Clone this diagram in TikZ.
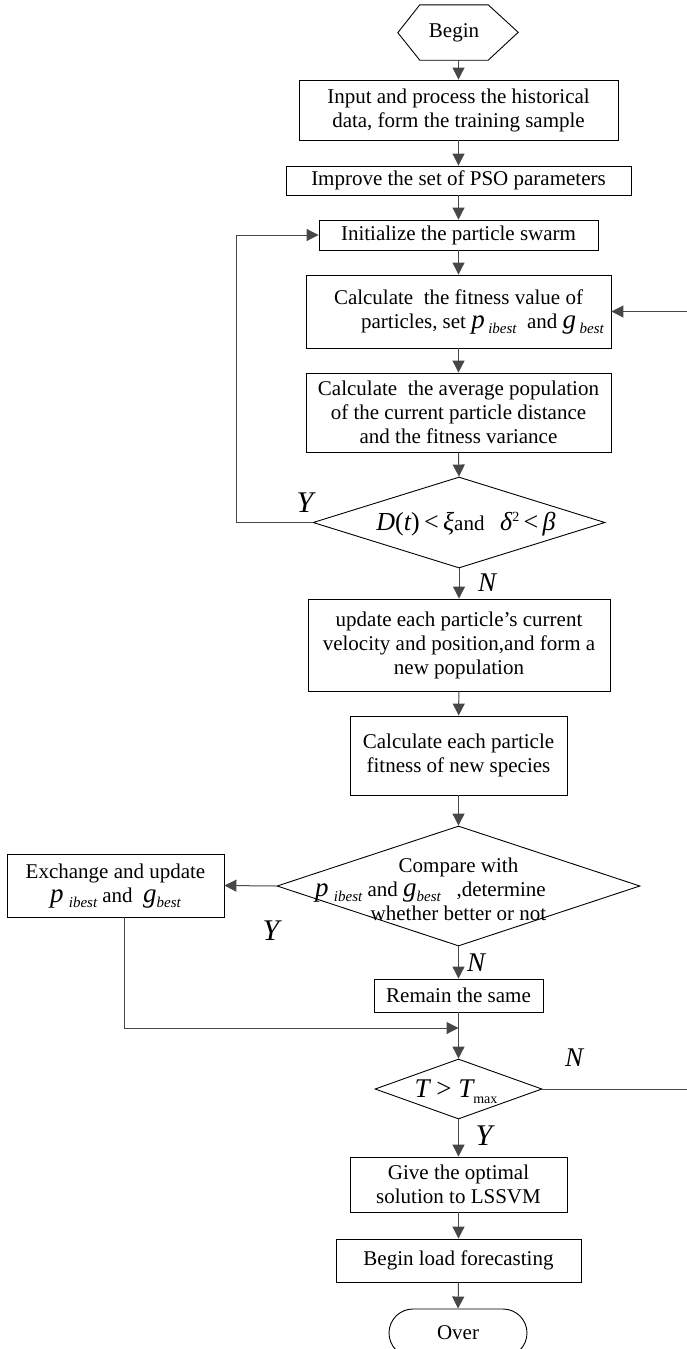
\documentclass[tikz,border=0pt]{standalone}
\usepackage{fontspec}
\setmainfont{Liberation Serif}
\usetikzlibrary{arrows.meta,shapes.geometric,shapes.misc}
\newcommand\bigit[1]{{\fontsize{27}{27}\selectfont\itshape #1}}
\newcommand\bigup[1]{{\fontsize{27}{27}\selectfont #1}}
\newcommand\midit[1]{{\fontsize{26}{26}\selectfont\itshape #1}}
\newcommand\midup[1]{{\fontsize{26}{26}\selectfont #1}}
\newcommand\subit[1]{\raisebox{-5pt}{\fontsize{15}{15}\selectfont\itshape #1}}
\newcommand\subup[1]{\raisebox{-6pt}{\fontsize{14}{14}\selectfont #1}}
\newcommand\pib{\smash{\bigit{p}}}
\newcommand\gb{\smash{\bigit{g}}}
\begin{document}
\begin{tikzpicture}[x=1pt,y=-1pt,
  every node/.style={font=\fontsize{21}{24}\selectfont},
  box/.style={draw, line width=0.9pt, inner sep=0pt, align=center},
  dia/.style={draw, diamond, line width=0.9pt, inner sep=0pt},
  conn/.style={line width=1pt, draw=black!72},
  arr/.style={conn, -{Triangle[width=12pt,length=12pt]}},
  lbl/.style={font=\fontsize{30}{30}\selectfont\itshape, inner sep=0pt},
  lbls/.style={font=\fontsize{27}{27}\selectfont\itshape, inner sep=0pt}]
\useasboundingbox (0,0) rectangle (687,1349);
% Begin hexagon
\node (begin) [inner sep=0pt, minimum width=68, minimum height=55] at (454,32.5) {Begin};
\draw[line width=0.9pt] (begin.north west) -- (begin.north east) -- ++(30,27.5) -- (begin.south east)
  -- (begin.south west) -- ++(-22,-27.5) -- cycle;
\node (b1) [box, minimum width=319, minimum height=60] at (458.5,110) {Input and process the historical\\data, form the training sample};
\node (b2) [box, minimum width=345, minimum height=29] at (458.5,180.5) {Improve the set of PSO parameters};
\node (b3) [box, minimum width=279, minimum height=30] at (458.5,235) {Initialize the particle swarm};
\node (b4) [box, minimum width=305, minimum height=73] at (458.5,311.5) {Calculate\ \ the fitness value of\\\hspace*{48pt}particles, set \pib\,\subit{ibest}\ \ and \gb\,\subit{best}};
\node (b5) [box, minimum width=305, minimum height=79] at (458.5,412.5) {Calculate\ \ the average population\\of the current particle distance\\and the fitness variance};
\node (d1) [dia, minimum width=292, minimum height=91] at (459,522.5) {};
\node (d1t) [inner sep=0pt] at (466,524) {\midit{D}\midup{(}\midit{t}\midup{)\,<\,}\midit{ξ}and\ \ \ \midit{δ}\raisebox{9pt}{\fontsize{14}{14}\selectfont 2}\midup{\,<\,}\midit{β}};
\node (b6) [box, minimum width=302, minimum height=92] at (459,645) {update each particle’s current\\velocity and position,and form a\\new population};
\node (b7) [box, minimum width=217, minimum height=79] at (458.5,755.5) {Calculate each particle\\fitness of new species};
\node (d2) [dia, minimum width=363, minimum height=120] at (458.5,886) {};
\node (d2t) [inner sep=0pt, align=center] at (458.5,889) {Compare with\\\hspace*{-56pt}\pib\ \subit{ibest} and \gb\subit{best}\ \ \ ,determine\\whether better or not};
\node (ex) [box, minimum width=217, minimum height=63] at (115.5,885.5) {Exchange and update\\\pib\ \subit{ibest} and \ \gb\subit{best}};
\node (rm) [box, minimum width=169, minimum height=33] at (458.5,995.5) {Remain the same};
\coordinate (j) at (458.5,1028);
\node (d3) [dia, minimum width=167, minimum height=60] at (458.5,1089) {};
\node (d3t) [inner sep=0pt] at (456,1092) {\bigit{T}\bigup{ > }\bigit{T}\subup{max}};
\node (gv) [box, minimum width=217, minimum height=55] at (458.5,1184.5) {Give the optimal\\solution to LSSVM};
\node (bl) [box, minimum width=245, minimum height=43] at (458.5,1260.5) {Begin load forecasting};
\node (ov) [draw, rounded rectangle, line width=0.9pt, minimum width=138, minimum height=48, inner sep=0pt] at (458,1333) {Over};
% connectors
\draw[arr] (begin.south -| b1.north) -- (b1.north);
\draw[arr] (b1) -- (b2);
\draw[arr] (b2) -- (b3);
\draw[arr] (b3) -- (b4);
\draw[arr] (b4) -- (b5);
\draw[arr] (b5.south) -- (d1.north);
\draw[arr] (d1.south) -- (b6.north);
\draw[arr] (b6) -- (b7);
\draw[arr] (b7.south) -- (d2.north);
\draw[arr] (d2.west) -- (ex.east);
\draw[arr] (d2.south) -- (rm.north);
\draw[conn] (rm.south) -- (j);
\draw[arr] (ex.south -| 124,0) |- (j);
\draw[arr] (j) -- (d3.north);
\draw[arr] (d3.south) -- (gv.north);
\draw[arr] (gv) -- (bl);
\draw[arr] (bl.south) -- (ov.north);
\draw[arr] (d1.west) -- ++(-76,0) |- (b3.west);
\draw[arr] (d3.east) -- (690,1089) |- (b4.east);
% labels
\node (y1) [lbl] at (305,503) {Y};
\node (n1) [lbls] at (487,583) {N};
\node (y2) [lbl] at (271,931) {Y};
\node (n2) [lbls] at (476,963) {N};
\node (n3) [lbls] at (574,1058) {N};
\node (y3) [lbl] at (484,1136) {Y};
\end{tikzpicture}
\end{document}
